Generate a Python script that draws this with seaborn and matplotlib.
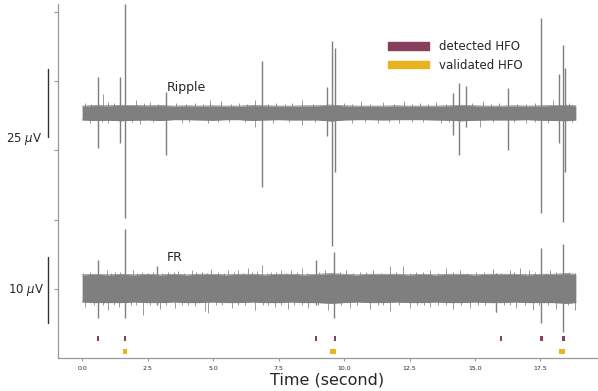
import numpy as np
import pandas as pd
import matplotlib.pyplot as plt
import matplotlib.transforms as mtransforms
from matplotlib.patches import Patch
import seaborn as sns

sns.set_style("ticks")
plt.rcParams["font.family"] = ["DejaVu Sans"]

# ── data ──────────────────────────────────────────────────────────────────────

# envelope of the background noise, µV relative to each trace's baseline
ENV_T = [0.0, 0.5, 1.0, 1.5, 2.0, 2.5, 3.0, 3.5, 4.0, 4.5, 5.0, 5.5, 6.0, 6.5,
         7.0, 7.5, 8.0, 8.5, 9.0, 9.5, 10.0, 10.5, 11.0, 11.5, 12.0, 12.5,
         13.0, 13.5, 14.0, 14.5, 15.0, 15.5, 16.0, 16.5, 17.0, 17.5, 18.0,
         18.5, 18.85]
RIPPLE_UP = [2.5, 2.7, 2.6, 2.8, 2.7, 2.6, 2.7, 2.5, 2.6, 2.5, 2.6, 2.5, 2.5,
             2.7, 2.6, 2.5, 2.5, 2.6, 2.6, 2.9, 2.6, 2.5, 2.5, 2.5, 2.6, 2.5,
             2.5, 2.5, 2.6, 2.8, 2.6, 2.5, 2.5, 2.6, 2.5, 2.6, 2.7, 2.8, 2.6]
RIPPLE_LO = [-2.6, -2.8, -2.7, -2.9, -2.7, -2.6, -2.8, -2.5, -2.5, -2.6, -2.7,
             -2.5, -2.5, -2.8, -2.6, -2.5, -2.6, -2.6, -2.6, -3.0, -2.6, -2.5,
             -2.5, -2.6, -2.5, -2.5, -2.5, -2.6, -2.7, -2.9, -2.7, -2.6, -2.6,
             -2.6, -2.5, -2.7, -2.8, -2.9, -2.6]
FR_UP = [2.1, 2.2, 2.1, 2.2, 2.1, 2.2, 2.1, 2.2, 2.1, 2.2, 2.2, 2.1, 2.2,
         2.2, 2.1, 2.2, 2.2, 2.1, 2.2, 2.3, 2.2, 2.1, 2.2, 2.2, 2.2, 2.1,
         2.2, 2.1, 2.2, 2.2, 2.1, 2.2, 2.2, 2.2, 2.1, 2.2, 2.2, 2.3, 2.2]
FR_LO = [-2.0, -2.1, -2.1, -2.1, -2.0, -2.1, -2.1, -2.0, -2.1, -2.1, -2.0,
         -2.1, -2.1, -2.0, -2.1, -2.1, -2.0, -2.1, -2.1, -2.2, -2.1, -2.0,
         -2.1, -2.1, -2.0, -2.1, -2.1, -2.0, -2.1, -2.1, -2.0, -2.1, -2.1,
         -2.0, -2.1, -2.1, -2.1, -2.2, -2.1]

# small noise excursions (time s, amplitude µV)
RIPPLE_JAG_T = [0.11, 0.35, 0.8, 1.0, 1.2, 2.05, 2.35, 2.6, 2.9, 3.6, 3.95,
                4.3, 4.6, 4.88, 5.3, 5.7, 6.0, 6.3, 6.6, 7.1, 7.4, 7.75, 8.0,
                8.4, 8.8, 10.0, 10.3, 10.66, 11.0, 11.5, 11.9, 12.3, 12.6,
                12.9, 13.2, 13.5, 13.9, 14.9, 15.3, 15.6, 15.9, 16.6, 16.95,
                17.3, 17.97, 18.6,
                0.3, 0.75, 1.0, 1.9, 2.2, 2.7, 3.8, 4.1, 4.8, 5.2, 5.6, 6.2,
                6.6, 7.3, 7.9, 8.4, 8.9, 10.3, 10.8, 11.3, 11.7, 12.1, 12.6,
                13.0, 13.7, 14.0, 15.2, 15.7, 16.5, 16.95, 17.3, 17.8, 18.7]
RIPPLE_JAG_A = [3.7, 3.4, 7.0, 4.0, 3.5, 4.8, 3.5, 4.0, 3.4, 3.8, 3.4, 3.6,
                3.3, 4.8, 4.2, 3.4, 3.7, 3.4, 4.8, 3.4, 3.8, 3.3, 3.6, 4.8,
                3.4, 3.8, 3.3, 4.2, 3.4, 3.9, 3.4, 4.4, 3.3, 3.6, 3.4, 3.9,
                3.4, 3.5, 4.2, 3.4, 3.7, 3.4, 3.3, 3.5, 4.8, 3.6,
                -3.8, -3.4, -3.7, -3.4, -4.2, -3.4, -3.6, -3.3, -3.7, -3.4,
                -3.4, -3.5, -5.1, -3.8, -3.4, -4.4, -3.4, -3.6, -3.3, -3.7,
                -3.4, -3.7, -3.3, -3.4, -3.9, -3.4, -5.1, -3.4, -3.5, -3.7,
                -3.3, -3.6, -3.5]
FR_JAG_T = [0.05, 0.30, 0.62, 0.94, 1.10, 1.26, 1.45, 1.96, 2.10, 2.27, 2.53,
            2.70, 2.85, 3.05, 3.29, 3.50, 3.67, 3.90, 4.18, 4.36, 4.56, 4.75,
            4.94, 5.2, 5.40, 5.58, 5.78, 5.96, 6.15, 6.34, 6.50, 6.66, 6.85,
            7.05, 7.23, 7.42, 7.61, 7.80, 7.99, 8.20, 8.38, 8.60, 9.05, 9.26,
            9.85, 10.09, 10.35, 10.6, 10.85, 11.1, 11.40, 11.74, 12.0, 12.25,
            12.50, 12.76, 13.0, 13.27, 13.6, 13.9, 14.15, 14.41, 14.7, 15.05,
            15.35, 15.68, 16.0, 16.33, 16.5, 16.7, 16.9, 17.08, 17.3, 17.7,
            17.85, 18.1, 18.6, 18.8,
            0.11, 0.45, 0.80, 1.0, 1.20, 1.39, 1.85, 2.05, 2.34, 2.6, 2.97,
            3.2, 3.55, 3.8, 4.05, 4.30, 4.69, 4.82, 5.1, 5.35, 5.71, 5.95,
            6.2, 6.6, 6.9, 7.1, 7.36, 7.6, 7.87, 8.1, 8.4, 8.63, 9.0, 9.39,
            9.9, 10.22, 10.5, 10.98, 11.3, 11.5, 11.74, 12.1, 12.5, 12.8,
            13.05, 13.27, 13.6, 13.9, 14.16, 14.45, 14.79, 15.1, 15.4, 15.81,
            16.1, 16.35, 16.57, 16.9, 17.21, 17.45, 17.8, 18.1, 18.55, 18.8]
FR_JAG_A = [2.4, 2.6, 2.5, 2.9, 2.4, 2.6, 2.5, 2.9, 2.4, 2.6, 2.4, 2.5, 3.3,
            2.4, 2.6, 2.5, 2.7, 2.4, 2.9, 2.5, 2.6, 2.4, 3.0, 2.6, 2.4, 2.9,
            2.5, 2.9, 2.4, 3.2, 2.5, 2.7, 3.6, 2.4, 2.6, 2.5, 2.9, 2.4, 2.9,
            2.5, 3.2, 2.4, 2.5, 2.9, 2.5, 2.9, 2.4, 2.6, 2.5, 2.9, 2.4, 3.4,
            2.5, 3.5, 2.4, 2.6, 2.5, 2.9, 2.4, 3.2, 2.5, 2.9, 2.4, 2.6, 2.5,
            3.0, 2.4, 2.9, 2.5, 3.2, 2.4, 2.9, 2.5, 2.4, 2.9, 2.5, 2.6, 2.4,
            -2.7, -2.4, -2.5, -3.2, -2.4, -2.8, -2.5, -2.4, -3.9, -2.5, -3.1,
            -2.4, -2.9, -2.5, -2.4, -2.6, -3.4, -3.7, -2.4, -2.5, -2.9, -2.4,
            -2.5, -3.2, -2.4, -2.5, -2.8, -2.4, -3.1, -2.5, -2.4, -2.9, -2.5,
            -3.2, -2.4, -2.9, -2.5, -3.1, -2.4, -2.5, -3.4, -2.4, -2.9, -2.5,
            -2.4, -2.8, -2.5, -2.4, -3.1, -2.5, -2.9, -2.4, -2.5, -3.5, -2.4,
            -2.5, -2.9, -2.4, -3.2, -2.5, -2.4, -3.1, -2.5, -3.2]

# large transients (time s, peak up µV, peak down µV)
RIPPLE_SPK_T = [0.60, 1.46, 1.64, 3.20, 6.85, 9.34, 9.54, 9.65, 14.15, 14.40,
                14.67, 16.27, 17.52, 18.22, 18.35, 18.42]
RIPPLE_SPK_UP = [13.3, 13.2, 40.1, 7.5, 19.1, 9.4, 26.5, 23.9, 7.4, 11.0, 9.9,
                 9.2, 34.9, 14.3, 25.0, 16.5]
RIPPLE_SPK_DN = [-12.9, -11.0, -38.6, -15.4, -27.1, -8.5, -48.9, -21.7, -8.1,
                 -15.4, -5.1, -13.6, -36.8, -11.0, -40.1, -21.7]
FR_SPK_T = [0.60, 1.64, 2.85, 8.92, 9.63, 15.81, 17.52, 18.35]
FR_SPK_UP = [4.3, 9.1, 3.5, 4.3, 5.6, 2.4, 6.2, 6.7]
FR_SPK_DN = [-4.5, -4.5, -2.4, -2.5, -4.5, -3.5, -5.2, -6.5]

# HFO events (start s, duration s)
DETECTED_START = [0.55, 1.60, 8.88, 9.61, 15.96, 17.50, 18.31]
DETECTED_DUR = [0.10, 0.08, 0.08, 0.10, 0.08, 0.10, 0.12]
VALIDATED_START = [1.58, 9.45, 18.20]
VALIDATED_DUR = [0.13, 0.25, 0.22]

# ── layout constants ──────────────────────────────────────────────────────────

GRAY = "#7f7f7f"
DET_COLOR = "#873f5c"
VAL_COLOR = "#e8b31e"
RIPPLE_OFS, RIPPLE_GAIN = 3.54, 0.983 / 25   # axis units per µV
FR_OFS, FR_GAIN = 1.0, 0.954 / 10


def draw_trace(ax, up, lo, jag_t, jag_a, spk_t, spk_up, spk_dn, ofs, gain):
    env = pd.DataFrame({"t": ENV_T,
                        "up": ofs + np.array(up) * gain,
                        "lo": ofs + np.array(lo) * gain})
    ax.fill_between(env["t"], env["up"], env["lo"], color=GRAY, lw=0)
    sns.lineplot(data=env, x="t", y="up", ax=ax, color=GRAY, lw=0.5)
    sns.lineplot(data=env, x="t", y="lo", ax=ax, color=GRAY, lw=0.5)
    ax.vlines(jag_t, ofs, ofs + np.array(jag_a) * gain, color=GRAY, lw=0.55)
    ax.vlines(spk_t, ofs + np.array(spk_dn) * gain,
              ofs + np.array(spk_up) * gain, color=GRAY, lw=1.0)


fig = plt.figure(figsize=(5.98, 3.91), dpi=100)
ax = fig.add_axes([0.097, 0.0844, 0.901, 0.906])

draw_trace(ax, RIPPLE_UP, RIPPLE_LO, RIPPLE_JAG_T, RIPPLE_JAG_A,
           RIPPLE_SPK_T, RIPPLE_SPK_UP, RIPPLE_SPK_DN, RIPPLE_OFS, RIPPLE_GAIN)
draw_trace(ax, FR_UP, FR_LO, FR_JAG_T, FR_JAG_A,
           FR_SPK_T, FR_SPK_UP, FR_SPK_DN, FR_OFS, FR_GAIN)

# HFO event markers
ax.broken_barh(list(zip(DETECTED_START, DETECTED_DUR)), (0.243, 0.075),
               facecolors=DET_COLOR, edgecolor="none")
ax.broken_barh(list(zip(VALIDATED_START, VALIDATED_DUR)), (0.055, 0.075),
               facecolors=VAL_COLOR, edgecolor="none")

# trace names
ax.text(3.25, 3.90, "Ripple", fontsize=9, va="center", ha="left")
ax.text(3.25, 1.45, "FR", fontsize=9, va="center", ha="left")

# scale bars outside the axes
trans = mtransforms.blended_transform_factory(ax.transAxes, ax.transData)
ax.plot([-0.0186, -0.0186], [3.19, 4.18], color="#333333", lw=1.0,
        transform=trans, clip_on=False)
ax.plot([-0.0186, -0.0186], [0.506, 1.46], color="#333333", lw=1.0,
        transform=trans, clip_on=False)
ax.text(-0.030, 3.16, r"25 $\mu$V", transform=trans, ha="right", va="center",
        fontsize=8.5)
ax.text(-0.026, 0.98, r"10 $\mu$V", transform=trans, ha="right", va="center",
        fontsize=8.5)

handles = [Patch(color=DET_COLOR, label="detected HFO"),
           Patch(color=VAL_COLOR, label="validated HFO")]
ax.legend(handles=handles, loc="upper left", bbox_to_anchor=(0.604, 0.91),
          frameon=False, fontsize=8.5, handlelength=3.5, handleheight=0.65,
          labelspacing=0.45, borderaxespad=0)

ax.set_xlim(-0.92, 19.65)
ax.set_ylim(0, 5.116)
ax.set_yticks([1, 2, 3, 4, 5])
ax.set_yticklabels([])
ax.set_xticks([0, 2.5, 5, 7.5, 10, 12.5, 15, 17.5])
ax.set_xticklabels(["0.0", "2.5", "5.0", "7.5", "10.0", "12.5", "15.0", "17.5"])
ax.tick_params(axis="x", labelsize=4.5, length=2.5, color="#999999", pad=3)
ax.tick_params(axis="y", length=3, color="#999999")
ax.set_xlabel("Time (second)", fontsize=11.5, labelpad=1)
ax.set_ylabel("")
sns.despine(ax=ax)
for side in ("left", "bottom"):
    ax.spines[side].set_color("#999999")
    ax.spines[side].set_linewidth(0.9)

fig.savefig("out.png", dpi=100)
